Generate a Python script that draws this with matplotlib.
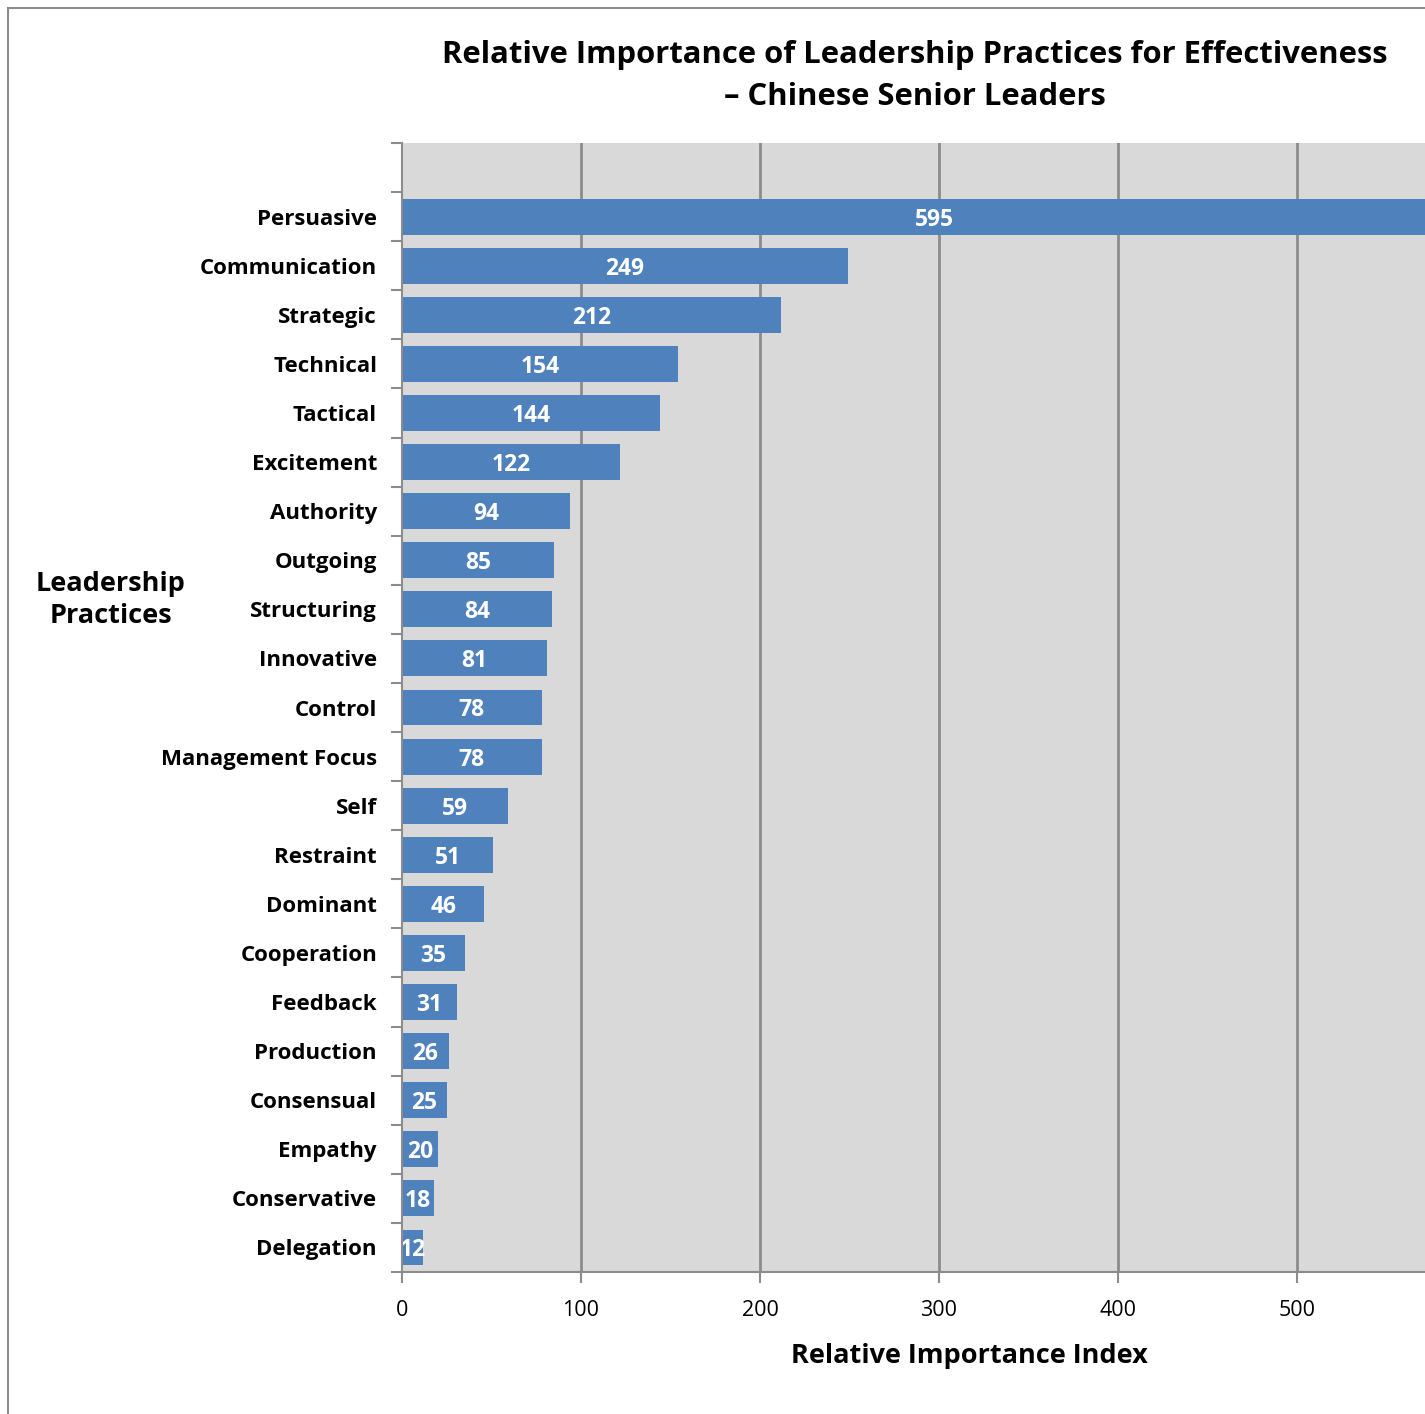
import matplotlib
matplotlib.use("Agg")
import matplotlib.pyplot as plt
from matplotlib.patches import Rectangle

categories = ["Persuasive", "Communication", "Strategic", "Technical", "Tactical",
              "Excitement", "Authority", "Outgoing", "Structuring", "Innovative",
              "Control", "Management Focus", "Self", "Restraint", "Dominant",
              "Cooperation", "Feedback", "Production", "Consensual", "Empathy",
              "Conservative", "Delegation"]
values = [595, 249, 212, 154, 144, 122, 94, 85, 84, 81, 78, 78, 59, 51, 46,
          35, 31, 26, 25, 20, 18, 12]
xticks = [0, 100, 200, 300, 400, 500]

title = "Relative Importance of Leadership Practices for Effectiveness\n\u2013 Chinese Senior Leaders"
xlabel = "Relative Importance Index"
ylabel = "Leadership\nPractices"

FONT = ["Open Sans", "DejaVu Sans"]
plt.rcParams["font.family"] = FONT

W, H = 1425, 1414
fig = plt.figure(figsize=(W / 100, H / 100), dpi=100)

# outer border
fig.patches.append(Rectangle((8 / W, -0.1), 1.2, 1 - 8 / H + 0.1, transform=fig.transFigure,
                             fill=False, edgecolor="#8c8c8c", linewidth=1.5))

ax = fig.add_axes([402 / W, 1 - 1272 / H, 1 - 402 / W, (1272 - 143) / H])
ax.set_facecolor("#d9d9d9")

ypos = list(range(len(categories)))
ax.barh(ypos, values, height=0.73, color="#4f81bd", zorder=3)
ax.set_xlim(0, (W - 402) / 1.79)
ax.set_ylim(len(categories) - 0.5, -1.5)

for x in xticks[1:]:
    ax.axvline(x, color="#8c8c8c", linewidth=2, zorder=1)

for y, v in zip(ypos, values):
    ax.text(v / 2, y + 0.06, str(v), color="white", fontsize=16.5, fontweight="bold",
            ha="center", va="center", zorder=4)

ax.set_xticks(xticks)
ax.set_xticklabels([str(t) for t in xticks], fontsize=15.5)
ax.set_yticks([k - 0.5 for k in range(-1, len(categories) + 1)])
ax.set_yticklabels([])
ax.set_yticks(ypos, minor=True)
ax.set_yticklabels(categories, minor=True, fontsize=16, fontweight="bold")
ax.tick_params(axis="y", which="minor", length=0, pad=18)
ax.tick_params(axis="y", which="major", length=8, width=1.5, color="#8c8c8c", direction="out")
ax.tick_params(axis="x", length=8, width=1.5, color="#8c8c8c", direction="out", pad=12)

for s in ["top", "right"]:
    ax.spines[s].set_visible(False)
for s in ["left", "bottom"]:
    ax.spines[s].set_color("#8c8c8c")
    ax.spines[s].set_linewidth(1.5)
    ax.spines[s].set_zorder(5)

fig.text(915 / W, 1 - 76 / H, title, ha="center", va="center", fontsize=22.3,
         fontweight="bold", linespacing=1.48)
fig.text(969 / W, 1 - 1356 / H, xlabel, ha="center", va="center", fontsize=19.5, fontweight="bold")
fig.text(111 / W, 1 - 600 / H, ylabel, ha="center", va="center", fontsize=19.5,
         fontweight="bold", linespacing=1.3)

fig.savefig("out.png", dpi=100)
